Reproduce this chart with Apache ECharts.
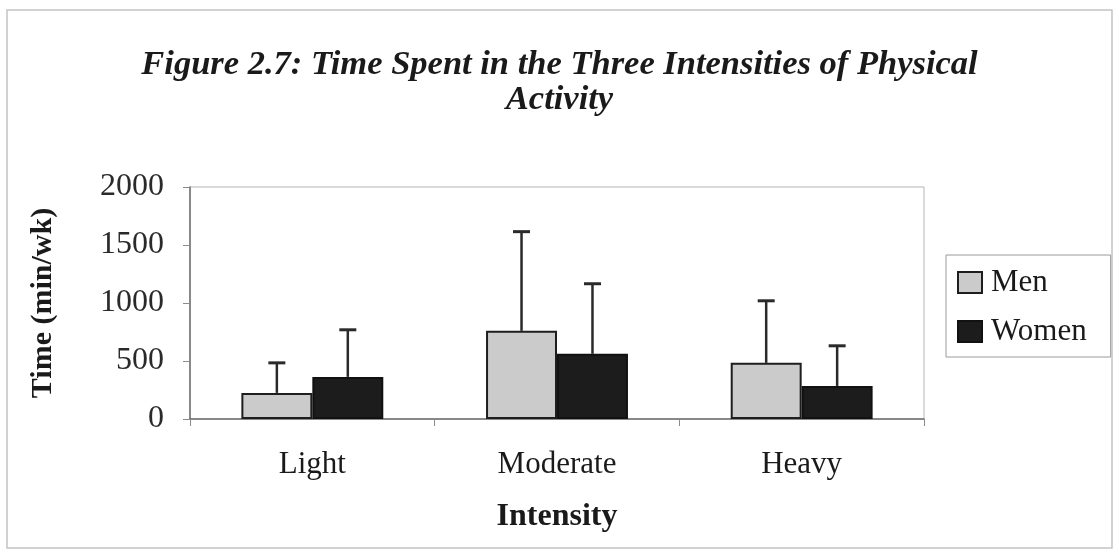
<!DOCTYPE html>
<html>
<head>
<meta charset="utf-8">
<script src="https://cdn.jsdelivr.net/npm/echarts@6/dist/echarts.min.js"></script>
<style>
    html, body { margin: 0; padding: 0; background: #fff; }
</style>
</head>
<body>
<div style="width:1119px;height:554px;" id="activityChart"></div>
<script>
    // values (min/wk)
    const categories = ['Light', 'Moderate', 'Heavy'];
    const menMean = [225, 760, 484];
    const womenMean = [363, 562, 285];
    const menSD = [259, 855, 535];
    const womenSD = [406, 604, 346];
    const yTicks = [0, 500, 1000, 1500, 2000];

    const serif = '"Liberation Serif", "DejaVu Serif", serif';
    const gapRatio = 0.42;      // barCategoryGap
    const barShare = (1 - gapRatio) / 2;

    // error bar drawn on top of the bar centre, upward only
    function errorBar (offsetSign) {
        return function (params, api) {
            const idx = api.value(0);
            const top = api.coord([idx, api.value(1) + api.value(2)]);
            const base = api.coord([idx, api.value(1)]);
            const band = api.size([1, 0])[0];
            const x = base[0] + offsetSign * band * barShare / 2;
            const cap = 8.5;
            return {
                type: 'group',
                children: [
                    {
                        type: 'line',
                        shape: { x1: x, y1: base[1], x2: x, y2: top[1] },
                        style: { stroke: '#2a2a2a', lineWidth: 2.5 }
                    },
                    {
                        type: 'line',
                        shape: { x1: x - cap, y1: top[1], x2: x + cap, y2: top[1] },
                        style: { stroke: '#2a2a2a', lineWidth: 3 }
                    }
                ]
            };
        };
    }

    let chart = echarts.init(document.getElementById('activityChart'));
    const option = {
        backgroundColor: '#fff',
        animation: false,
        title: {
            text: 'Figure 2.7: Time Spent in the Three Intensities of Physical\nActivity',
            left: 'center',
            top: 43,
            textStyle: {
                fontFamily: serif,
                fontStyle: 'italic',
                fontWeight: 'bold',
                fontSize: 34.5,
                lineHeight: 35,
                color: '#1a1a1a'
            }
        },
        graphic: [
            {
                type: 'rect',
                shape: { x: 7, y: 10, width: 1105, height: 538 },
                style: { fill: 'none', stroke: '#c4c4c4', lineWidth: 1.5 },
                silent: true
            }
        ],
        legend: {
            data: ['Men', 'Women'],
            orient: 'vertical',
            left: 946,
            top: 255,
            padding: [12, 24, 10, 11],
            itemGap: 18,
            itemWidth: 24,
            itemHeight: 21,
            icon: 'rect',
            borderColor: '#9a9a9a',
            borderWidth: 1,
            textStyle: {
                fontFamily: serif,
                fontSize: 31,
                padding: [0, 0, 0, 4],
                color: '#1a1a1a'
            }
        },
        grid: {
            left: 190,
            right: 195,
            top: 187,
            bottom: 135,
            show: true,
            borderColor: '#b5b5b5',
            borderWidth: 1
        },
        xAxis: {
            type: 'category',
            data: categories,
            name: 'Intensity',
            nameLocation: 'middle',
            nameGap: 82,
            nameTextStyle: {
                fontFamily: serif,
                fontWeight: 'bold',
                fontSize: 32,
                color: '#1a1a1a'
            },
            axisLine: { lineStyle: { color: '#6e6e6e', width: 1.5 } },
            axisTick: { show: true, length: 7, lineStyle: { color: '#8a8a8a' } },
            axisLabel: {
                margin: 30,
                fontFamily: serif,
                fontSize: 31,
                color: '#1a1a1a'
            }
        },
        yAxis: {
            type: 'value',
            min: yTicks[0],
            max: yTicks[yTicks.length - 1],
            interval: 500,
            name: 'Time (min/wk)',
            nameLocation: 'middle',
            nameGap: 132,
            nameTextStyle: {
                fontFamily: serif,
                fontWeight: 'bold',
                fontSize: 30,
                color: '#1a1a1a'
            },
            axisLine: { show: true, lineStyle: { color: '#6e6e6e', width: 1.5 } },
            axisTick: { show: true, length: 7, lineStyle: { color: '#8a8a8a' } },
            splitLine: { show: false },
            axisLabel: {
                margin: 26,
                fontFamily: serif,
                fontSize: 32,
                color: '#2a2a2a',
                formatter: function (v) { return String(v); }
            }
        },
        series: [
            {
                name: 'Men',
                type: 'bar',
                data: menMean,
                barGap: 0,
                barCategoryGap: (gapRatio * 100) + '%',
                itemStyle: {
                    color: '#cbcbcb',
                    borderColor: '#1e1e1e',
                    borderWidth: 2
                }
            },
            {
                name: 'Women',
                type: 'bar',
                data: womenMean,
                barGap: 0,
                barCategoryGap: (gapRatio * 100) + '%',
                itemStyle: {
                    color: '#1c1c1c',
                    borderColor: '#111',
                    borderWidth: 2
                }
            },
            {
                name: 'Men SD',
                type: 'custom',
                renderItem: errorBar(-1),
                data: categories.map((c, i) => [i, menMean[i], menSD[i]]),
                encode: { x: 0, y: 1 },
                z: 3
            },
            {
                name: 'Women SD',
                type: 'custom',
                renderItem: errorBar(1),
                data: categories.map((c, i) => [i, womenMean[i], womenSD[i]]),
                encode: { x: 0, y: 1 },
                z: 3
            }
        ]
    };
    chart.setOption(option);
</script>
</body>
</html>
